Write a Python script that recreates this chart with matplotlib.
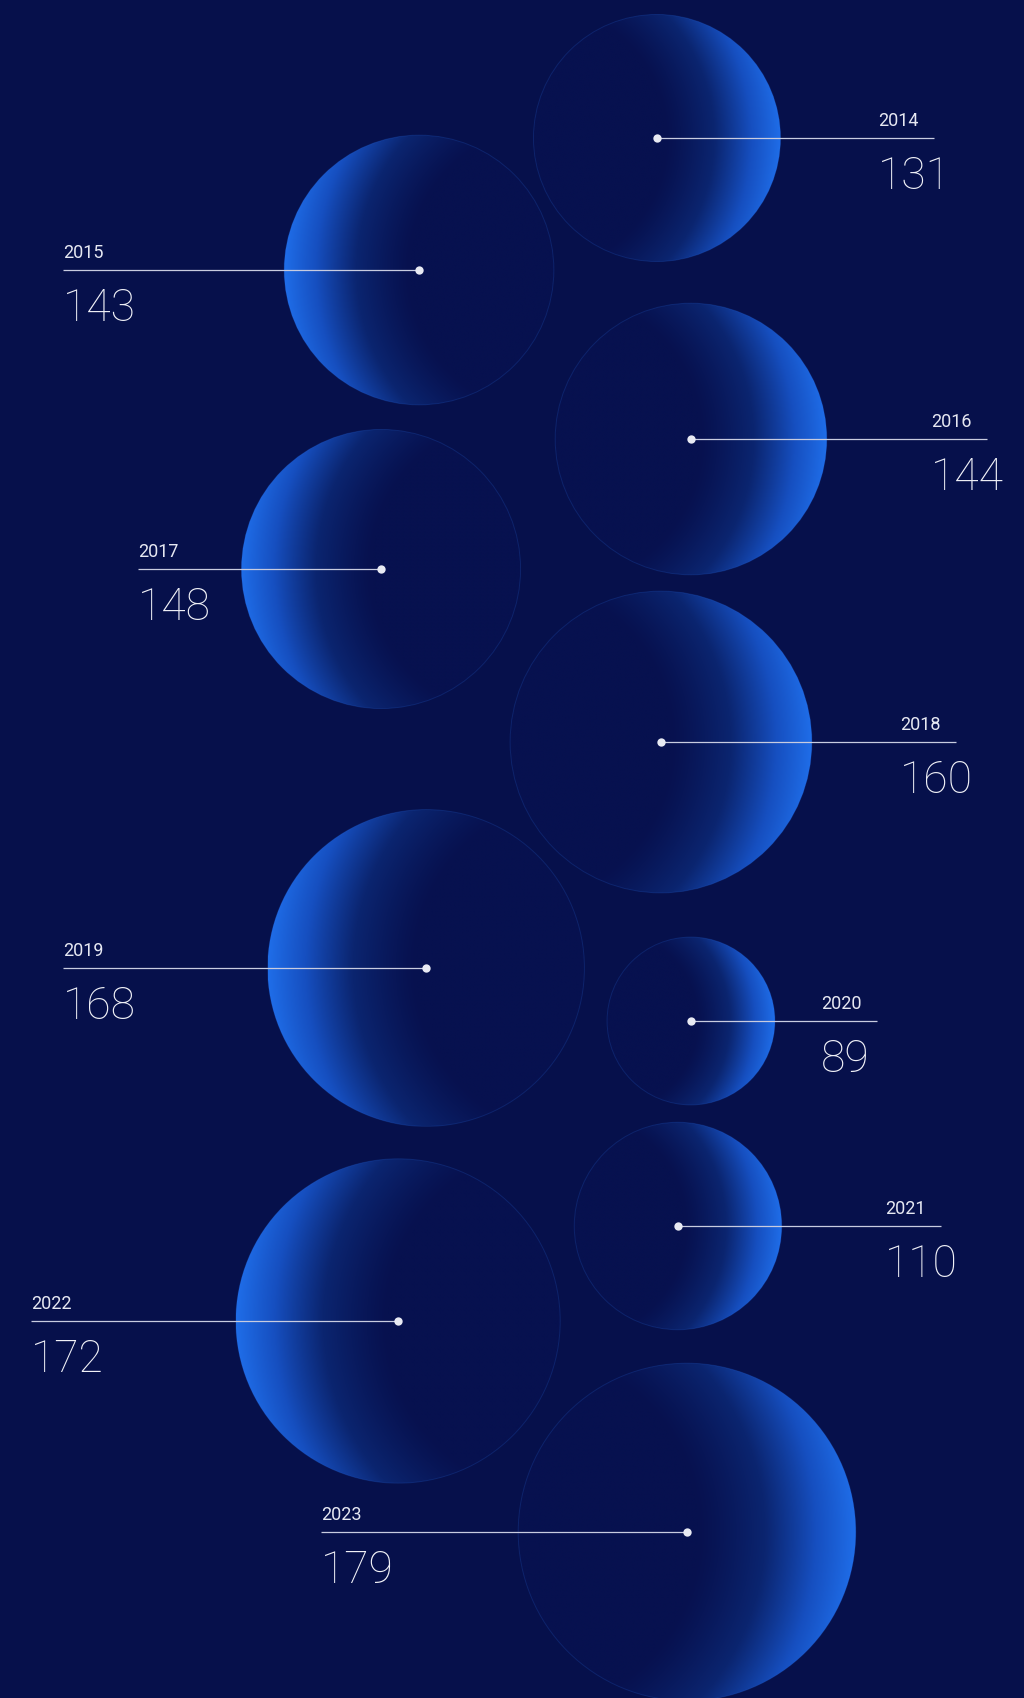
import matplotlib
matplotlib.use('Agg')
import matplotlib.pyplot as plt
from matplotlib.patches import Circle
from matplotlib.colors import LinearSegmentedColormap
import numpy as np

# data
years = ['2014', '2015', '2016', '2017', '2018', '2019', '2020', '2021', '2022', '2023']
values = [131, 143, 144, 148, 160, 168, 89, 110, 172, 179]

# layout (pixels, figure is 1024 x 1699)
centers_x = [657, 419, 691, 381, 661, 426, 691, 678, 398, 687]
centers_y = [139, 271, 440, 570, 743, 969, 1022, 1227, 1322, 1533]
label_side = ['right', 'left', 'right', 'left', 'right', 'left', 'right', 'right', 'left', 'left']
line_end = [934, 63, 987, 138, 956, 63, 877, 941, 31, 321]

W, H = 1024, 1699
bg = '#06104b'
px_per_unit = 0.943  # radius in px per value unit

cmap = LinearSegmentedColormap.from_list(
    'glow', [(0, '#07114f'), (0.35, '#0b2570'), (0.7, '#164fc0'), (1, '#1f6de8')])

fig = plt.figure(figsize=(W / 100, H / 100), dpi=100)
fig.patch.set_facecolor(bg)
ax = fig.add_axes([0, 0, 1, 1])
ax.set_facecolor(bg)

N = 400
g = np.linspace(-1, 1, N)
gx, gy = np.meshgrid(g, g)

for i in range(len(years)):
    cx, cy = centers_x[i], centers_y[i]
    r = values[i] * px_per_unit
    d = 1 if cx > W / 2 else -1  # bright side faces outward
    u = gx * d
    s = np.sqrt((u + 1.0) ** 2 + gy ** 2) / 2.0
    t = np.clip((s - 0.53) / 0.47, 0, 1) ** 1.25
    im = ax.imshow(t, cmap=cmap, vmin=0, vmax=1, extent=(cx - r, cx + r, cy + r, cy - r),
                   interpolation='bilinear', zorder=1)
    clip = Circle((cx, cy), r, transform=ax.transData)
    im.set_clip_path(clip)
    ax.add_patch(Circle((cx, cy), r, fill=False, ec='#2b6fe6', lw=0.7, alpha=0.2, zorder=2))

    # leader line + dot
    ax.plot([cx, line_end[i]], [cy, cy], color='#c8cce0', lw=0.9, zorder=3, solid_capstyle='butt')
    ax.plot(cx, cy, 'o', color='#e8eaf3', ms=6, mec='none', zorder=4)

    tx = line_end[i] - 56 if label_side[i] == 'right' else line_end[i]
    ax.text(tx, cy - 13, years[i], color='#e6e8f2', fontsize=13, family='Roboto',
            ha='left', va='baseline', zorder=5)
    ax.text(tx, cy + 50, str(values[i]), color='#f0f1f7', fontsize=32, family='Roboto',
            fontweight='light', ha='left', va='baseline', zorder=5)

ax.set_xlim(0, W)
ax.set_ylim(H, 0)
ax.axis('off')

fig.savefig('out.png', dpi=100, facecolor=bg)
